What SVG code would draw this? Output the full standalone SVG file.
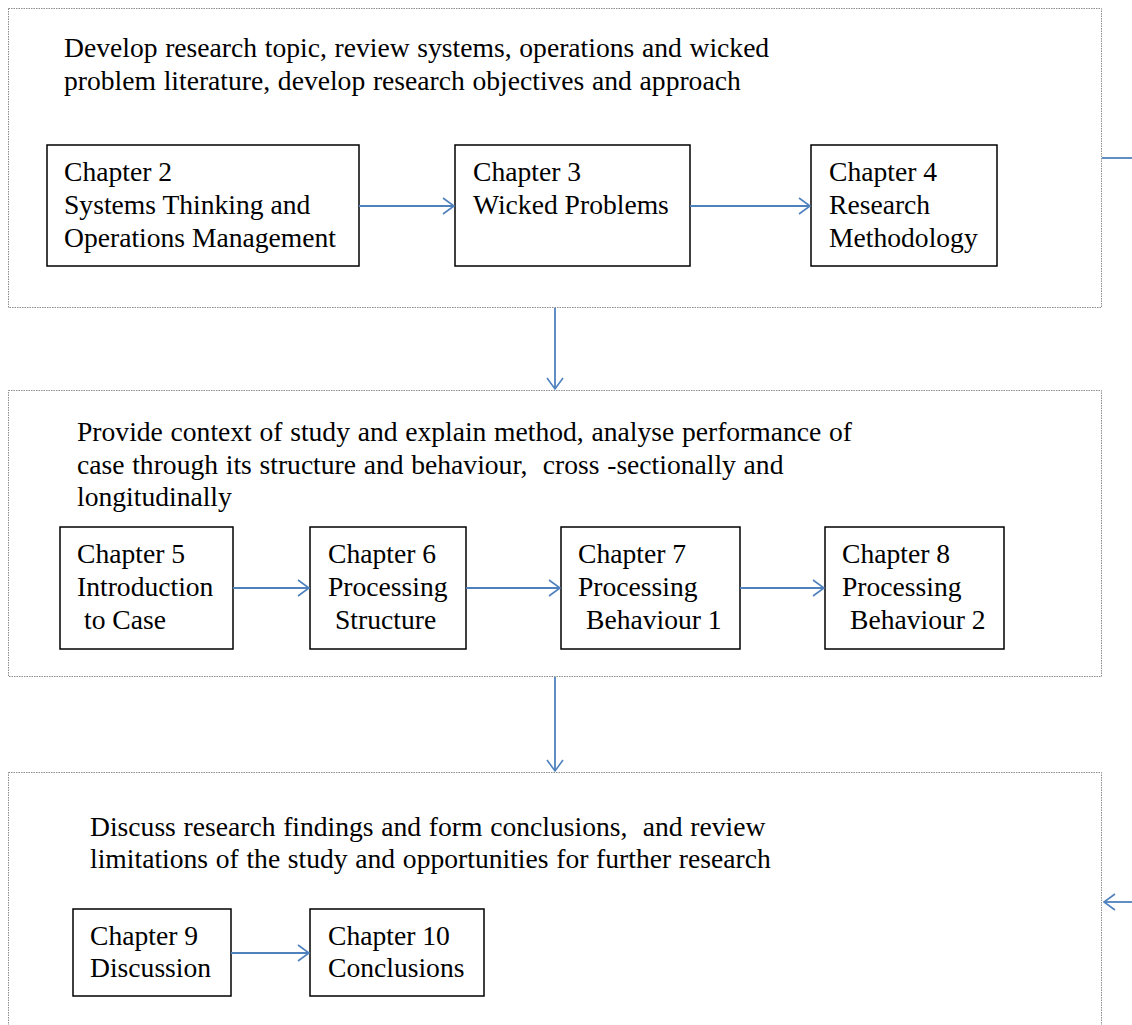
<svg xmlns="http://www.w3.org/2000/svg" width="1132" height="1025" viewBox="0 0 1132 1025">
  <defs>
    <marker id="open-arrow" markerWidth="14" markerHeight="18" refX="12" refY="9" orient="auto" markerUnits="userSpaceOnUse">
      <path d="M1,1 L12,9 L1,17" fill="none" stroke="#4f81bd" stroke-width="1.6"/>
    </marker>
    <style>
      .stage { fill: #fff; stroke: #8c8c8c; stroke-width: 1; stroke-dasharray: 1.5 1; }
      .chapter { fill: #fff; stroke: #000; stroke-width: 1.5; }
      .conn { stroke: #4f81bd; stroke-width: 1.8; fill: none; marker-end: url(#open-arrow); }
      .plain { stroke: #4f81bd; stroke-width: 1.8; fill: none; }
      text { font-family: "Liberation Serif", "Times New Roman", serif; font-size: 27.6px; fill: #000; }
      .heading { word-spacing: 0.8px; }
    </style>
  </defs>
  <rect width="1132" height="1025" fill="#fff"/>

  <!-- Stage 1 -->
  <g id="stage1">
    <rect class="stage" x="8.5" y="8.5" width="1093" height="299"/>
    <text class="heading" x="64" y="57">Develop research topic, review systems, operations and wicked</text>
    <text class="heading" x="64" y="90">problem literature, develop research objectives and approach</text>
  </g>
  <g id="ch2">
    <rect class="chapter" x="47" y="145" width="312" height="121"/>
    <text x="64" y="181">Chapter 2</text>
    <text x="64" y="214">Systems Thinking and</text>
    <text x="64" y="247">Operations Management</text>
  </g>
  <g id="ch3">
    <rect class="chapter" x="455" y="145" width="235" height="121"/>
    <text x="473" y="181">Chapter 3</text>
    <text x="473" y="214">Wicked Problems</text>
  </g>
  <g id="ch4">
    <rect class="chapter" x="811" y="145" width="186" height="121"/>
    <text x="829" y="181">Chapter 4</text>
    <text x="829" y="214">Research</text>
    <text x="829" y="247">Methodology</text>
  </g>

  <!-- Stage 2 -->
  <g id="stage2">
    <rect class="stage" x="8.5" y="390.5" width="1093" height="286"/>
    <text class="heading" x="77" y="441">Provide context of study and explain method, analyse performance of</text>
    <text class="heading" x="77" y="474" xml:space="preserve">case through its structure and behaviour,  cross -sectionally and</text>
    <text class="heading" x="77" y="506">longitudinally</text>
  </g>
  <g id="ch5">
    <rect class="chapter" x="60" y="527" width="173" height="122"/>
    <text x="77" y="563">Chapter 5</text>
    <text x="77" y="596">Introduction</text>
    <text x="84" y="629">to Case</text>
  </g>
  <g id="ch6">
    <rect class="chapter" x="310" y="527" width="156" height="122"/>
    <text x="328" y="563">Chapter 6</text>
    <text x="328" y="596">Processing</text>
    <text x="335" y="629">Structure</text>
  </g>
  <g id="ch7">
    <rect class="chapter" x="561" y="527" width="179" height="122"/>
    <text x="578" y="563">Chapter 7</text>
    <text x="578" y="596">Processing</text>
    <text x="586" y="629">Behaviour 1</text>
  </g>
  <g id="ch8">
    <rect class="chapter" x="825" y="527" width="179" height="122"/>
    <text x="842" y="563">Chapter 8</text>
    <text x="842" y="596">Processing</text>
    <text x="850" y="629">Behaviour 2</text>
  </g>

  <!-- Stage 3 -->
  <g id="stage3">
    <rect class="stage" x="8.5" y="772.5" width="1093" height="270"/>
    <text class="heading" x="90" y="836" xml:space="preserve">Discuss research findings and form conclusions,  and review</text>
    <text class="heading" x="90" y="868">limitations of the study and opportunities for further research</text>
  </g>
  <g id="ch9">
    <rect class="chapter" x="73" y="909" width="158" height="87"/>
    <text x="90" y="945">Chapter 9</text>
    <text x="90" y="977">Discussion</text>
  </g>
  <g id="ch10">
    <rect class="chapter" x="310" y="909" width="174" height="87"/>
    <text x="328" y="945">Chapter 10</text>
    <text x="328" y="977">Conclusions</text>
  </g>

  <!-- Connectors -->
  <g id="connectors">
    <line class="conn" x1="359" y1="206" x2="454" y2="206"/>
    <line class="conn" x1="690" y1="206" x2="810" y2="206"/>
    <line class="conn" x1="555" y1="308" x2="555" y2="389"/>
    <line class="conn" x1="233" y1="588" x2="309" y2="588"/>
    <line class="conn" x1="466" y1="588" x2="560" y2="588"/>
    <line class="conn" x1="740" y1="588" x2="824" y2="588"/>
    <line class="conn" x1="555" y1="677" x2="555" y2="771"/>
    <line class="conn" x1="231" y1="953" x2="309" y2="953"/>
    <line class="plain" x1="1102" y1="158" x2="1132" y2="158"/>
    <line class="conn" x1="1132" y1="902" x2="1104" y2="902"/>
  </g>
</svg>
